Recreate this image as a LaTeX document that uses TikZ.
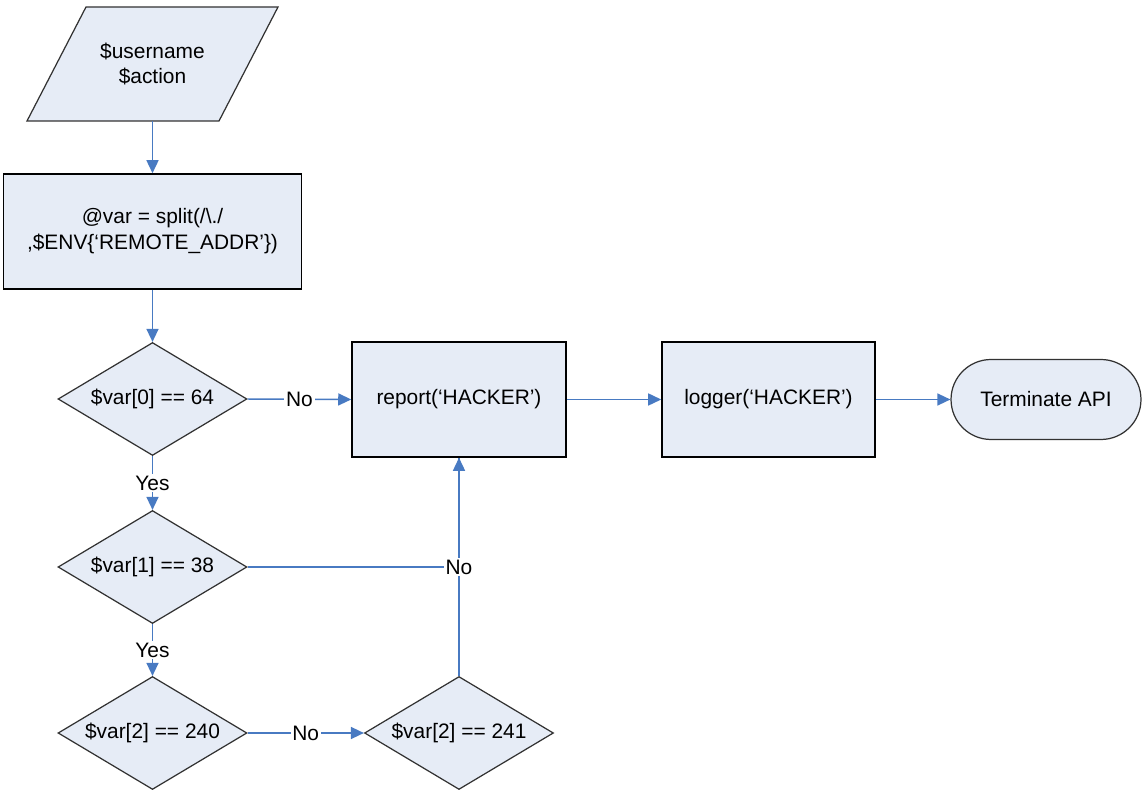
\documentclass[tikz,border=0pt]{standalone}
\usepackage{fontspec}
\setmainfont{Liberation Sans}
\usetikzlibrary{shapes.geometric,arrows.meta}
\definecolor{boxfill}{RGB}{230,236,246}
\definecolor{linkblue}{RGB}{72,122,194}
\definecolor{edgegray}{RGB}{50,50,50}
\tikzset{
  every node/.style={font=\fontsize{11.9}{14.7}\selectfont},
  procbox/.style={draw=black, line width=0.9pt, fill=boxfill, rectangle, align=center, inner sep=0pt},
  decision/.style={draw=edgegray, line width=0.7pt, fill=boxfill, diamond, aspect=1.68, inner sep=0pt, minimum width=3.78cm, minimum height=2.26cm},
  termbox/.style={draw=edgegray, line width=0.7pt, fill=boxfill, rectangle, rounded corners=0.8cm, minimum width=3.8cm, minimum height=1.6cm},
  link/.style={draw=linkblue, line width=0.85pt, -{Triangle[length=0.26cm,width=0.24cm]}},
  plainlink/.style={draw=linkblue, line width=0.85pt},
  lbl/.style={fill=white, inner sep=1pt, text=black}
}
\begin{document}
\begin{tikzpicture}[x=0.02cm,y=-0.02cm]
\useasboundingbox (0,0) rectangle (1143,793);
% input parallelogram
\draw[draw=edgegray, line width=0.7pt, fill=boxfill] (27,121) -- (219,121) -- (278,7) -- (86,7) -- cycle;
\node[rectangle, minimum width=3.84cm, minimum height=2.28cm, inner sep=0pt, align=center] (inp) at (152.5,64) {\$username\\\$action};
% process boxes
\node[procbox, minimum width=5.96cm, minimum height=2.3cm] (split) at (152.5,231.5) {@var = split(/\textbackslash./\\,\$ENV\{`REMOTE\_ADDR'\})};
\node[decision] (d1) at (152.5,399) {\$var[0] == 64};
\node[decision] (d2) at (152.5,567) {\$var[1] == 38};
\node[decision] (d3) at (152.5,733) {\$var[2] == 240};
\node[decision] (d4) at (459,733) {\$var[2] == 241};
\node[procbox, minimum width=4.28cm, minimum height=2.3cm] (report) at (459,399.5) {report(`HACKER')};
\node[procbox, minimum width=4.26cm, minimum height=2.3cm] (logger) at (768.5,399.5) {logger(`HACKER')};
\node[termbox] (term) at (1046,399.5) {Terminate API};
% connectors
\draw[link] (inp.south) -- (split.north);
\draw[link] (split.south) -- (d1.north);
\draw[link] (d1.east) -- (report.west) node[midway, lbl] {No};
\draw[link] (d1.south) -- (d2.north) node[midway, lbl] {Yes};
\draw[link] (d2.south) -- (d3.north) node[midway, lbl] {Yes};
\draw[link] (d3.east) -- (d4.west) node[midway, lbl] {No};
\draw[link] (d4.north) -- (report.south);
\draw[plainlink] (d2.east) -| (report.south) node[pos=0.5, lbl] {No};
\draw[link] (report.east) -- (logger.west);
\draw[link] (logger.east) -- (term.west);
\end{tikzpicture}
\end{document}
